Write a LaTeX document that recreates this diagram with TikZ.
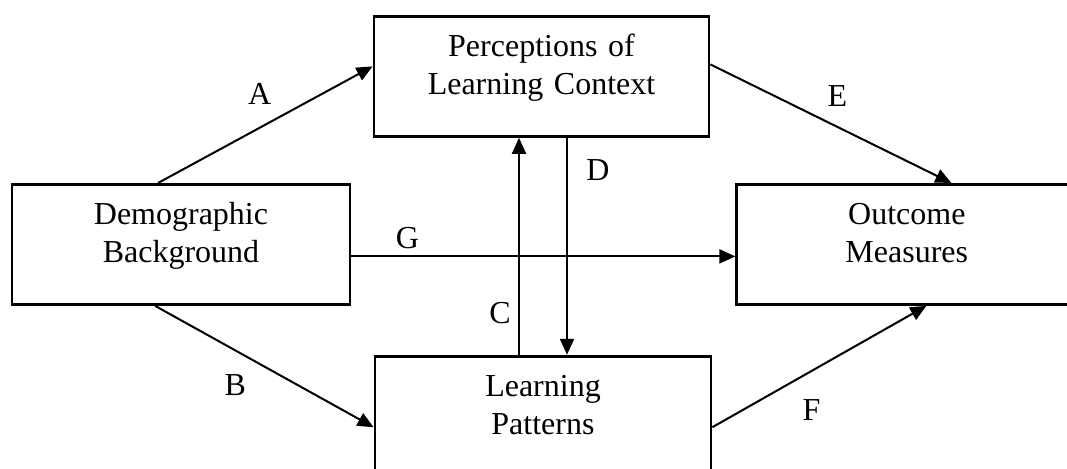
\documentclass[tikz,border=0pt]{standalone}
\usepackage{fontspec}
\setmainfont{Liberation Serif}
\usepackage{tikz}
\usetikzlibrary{arrows.meta, positioning, calc}

\begin{document}
\begin{tikzpicture}[
  x=0.5pt, y=-0.5pt,
  box/.style={rectangle, draw=black, line width=1.4pt, anchor=north,
              text width=#1, inner xsep=0pt, inner ysep=0pt,
              text height=20pt, text depth=40pt, align=center,
              font=\fontsize{16}{19}\selectfont},
  box/.default=168pt,
  arr/.style={-{Triangle[length=8pt, width=7pt]}, line width=1pt},
  lbl/.style={font=\fontsize{16}{19}\selectfont, inner sep=0pt},
]
\useasboundingbox (0,0) rectangle (1067,468);
\clip (0,0) rectangle (1067,468);

\node[box=167.5pt] (perc) at (541.5,15) {Perceptions of\\Learning Context};
\node[box=169pt] (demo) at (181,183) {Demographic\\Background};
\node[box, below=108.5pt of perc, xshift=0.75pt] (learn) {Learning\\Patterns};
\node[box=170pt, right=192pt of demo] (outc) {Outcome\\Measures};

\coordinate (cbot) at ([xshift=-12pt]learn.north);
\coordinate (dtop) at ([xshift=12.75pt]perc.south);

\draw[arr] ([xshift=-11.5pt]demo.north) -- ([yshift=5pt]perc.west) node[lbl, midway, xshift=-2.75pt, yshift=15.5pt] (lA) {A};
\draw[arr] ([xshift=-13pt]demo.south) -- ([yshift=-5.5pt]learn.west) node[lbl, midway, xshift=-14.5pt, yshift=-9.25pt] (lB) {B};
\draw[arr] (cbot) -- (cbot |- perc.south) node[lbl, pos=0.194, xshift=-9.5pt] (lC) {C};
\draw[arr] (dtop) -- (dtop |- learn.north) node[lbl, pos=0.147, xshift=15.5pt] (lD) {D};
\draw[arr] ([yshift=6pt]perc.east) -- ([xshift=108pt]outc.north west) node[lbl, midway, xshift=3.25pt, yshift=14pt] (lE) {E};
\draw[arr] ([yshift=-5.5pt]learn.east) -- ([xshift=95.5pt]outc.south west) node[lbl, midway, xshift=-4pt, yshift=-21.75pt] (lF) {F};
\draw[arr] ([yshift=-6pt]demo.east) -- ([yshift=-6pt]outc.west) node[lbl, pos=0.146, yshift=9pt] (lG) {G};

\end{tikzpicture}
\end{document}
